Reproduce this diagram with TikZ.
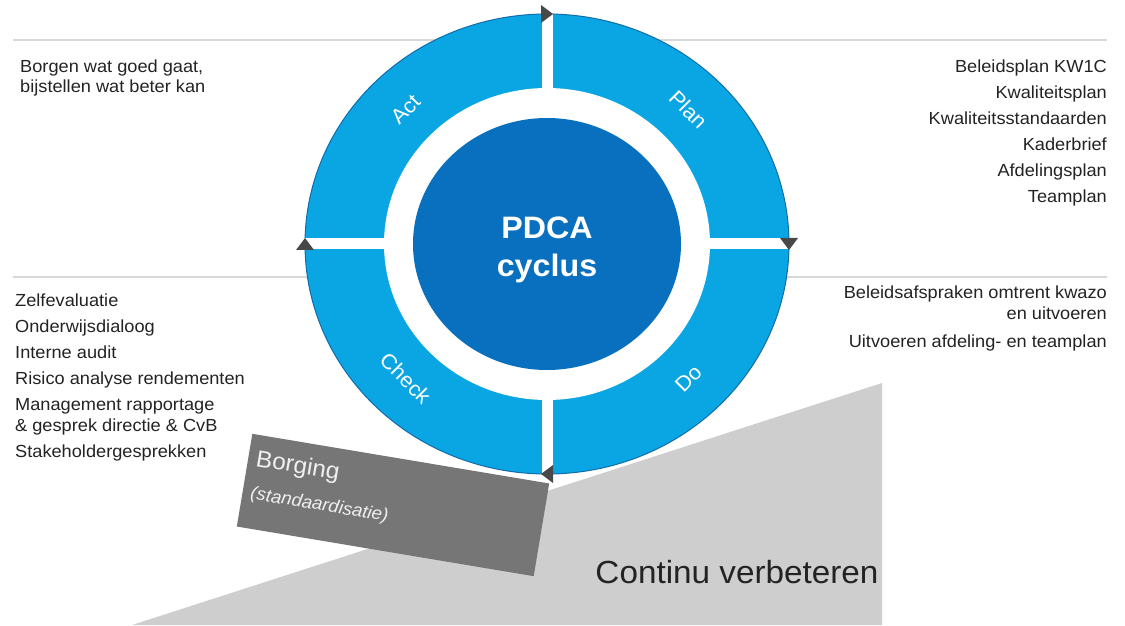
\documentclass[tikz,border=0pt]{standalone}
\usepackage{fontspec}
\setmainfont{Liberation Sans}[FakeStretch=1.04]
\usepackage{tikz}
\usetikzlibrary{shapes.geometric,calc,positioning}
\usepackage{xcolor}
\definecolor{ringblue}{RGB}{10,166,228}
\definecolor{ringedge}{RGB}{18,108,170}
\definecolor{coreblue}{RGB}{8,112,190}
\definecolor{rulegrey}{RGB}{216,216,216}
\definecolor{slopegrey}{RGB}{206,206,206}
\definecolor{boxgrey}{RGB}{118,118,118}
\definecolor{tipgrey}{RGB}{72,72,72}
\definecolor{inkgrey}{RGB}{35,35,35}

\begin{document}
\begin{tikzpicture}[x=1pt, y=1pt,
    rule/.style={rulegrey, line width=2pt},
    listtext/.style={inner sep=0pt, text=inkgrey, font=\fontsize{17.5}{21}\selectfont},
    phase/.style={text=white, font=\fontsize{21}{24}\selectfont},
    gap/.style={white, line width=11pt},
    tip/.style={fill=tipgrey},
    borgtext/.style={rotate=-9.5, anchor=base west, inner sep=0pt, text=white!94!black}
]
    \useasboundingbox (0,0) rectangle (1125,625);
    \coordinate (c) at (547,381);

    % rules behind the wheel
    \draw[rule] (13,585) -- (1107,585);
    \draw[rule] (13,348) -- (1107,348);

    % slope + borging block
    \fill[slopegrey] (132,0) -- (882,242) -- (882,0) -- cycle;
    \node[rotate=-9.5, fill=boxgrey, minimum width=301pt, minimum height=94pt, inner sep=0pt] (borging) at (393,120) {};
    \node[borgtext, font=\fontsize{23.5}{28}\selectfont] (borgtitle) at (255,159) {Borging};
    \node[borgtext, font=\itshape\fontsize{18}{22}\selectfont] (borgsub) at ($(borgtitle.base west)+(-99.5:33)$) {(standaardisatie)};
    \node[text=inkgrey, font=\fontsize{32}{36}\selectfont] (continu) at (737,53) {Continu verbeteren};

    % wheel
    \fill[ringblue, draw=ringedge, line width=1pt] (c) ellipse[x radius=242, y radius=230];
    \draw[gap] ($(c)+(0,230)$) -- ($(c)+(0,-230)$);
    \draw[gap] ($(c)+(-242,0)$) -- ($(c)+(242,0)$);
    \fill[white] (c) ellipse[x radius=163, y radius=156];
    \fill[coreblue] (c) ellipse[x radius=134, y radius=126];
    \node[text=white, align=center, font=\bfseries\fontsize{31}{38}\selectfont] (pdca) at (547,375) {PDCA\\cyclus};

    \node[phase, rotate=-45] (plan) at ($(c)+(45:200 and 190)$) {Plan};
    \node[phase, rotate=45] (do) at ($(c)+(-45:200 and 190)$) {Do};
    \node[phase, rotate=-45] (check) at ($(c)+(-135:200 and 190)$) {Check};
    \node[phase, rotate=45] (act) at ($(c)+(135:200 and 190)$) {Act};

    % clockwise tips where the gaps meet the rim
    \foreach \a/\r in {90/0, 0/-90, -90/180, 180/90}
        \fill[tip, shift={($(c)+(\a:242 and 230)$)}, rotate=\r] (-6,-9) -- (6,0) -- (-6,9) -- cycle;

    % Annotations
    \node[listtext, anchor=north west, align=left, font=\fontsize{17.5}{20}\selectfont] (keep) at (20,565)
        {Borgen wat goed gaat,\\bijstellen wat beter kan};
    \node[listtext, anchor=north east, align=right, font=\fontsize{17.5}{26}\selectfont] (plans) at (1107,565)
        {Beleidsplan KW1C\\Kwaliteitsplan\\Kwaliteitsstandaarden\\Kaderbrief\\Afdelingsplan\\Teamplan};
    \node[listtext, anchor=north east, align=right] (doing) at (1107,339)
        {Beleidsafspraken omtrent kwazo\\en uitvoeren\\[7pt]Uitvoeren afdeling- en teamplan};
    \node[listtext, anchor=north west, align=left] (checks) at (15,331)
        {Zelfevaluatie\\[5pt]Onderwijsdialoog\\[5pt]Interne audit\\[5pt]Risico analyse rendementen\\[5pt]Management rapportage\\\& gesprek directie \& CvB\\[5pt]Stakeholdergesprekken};
\end{tikzpicture}
\end{document}
